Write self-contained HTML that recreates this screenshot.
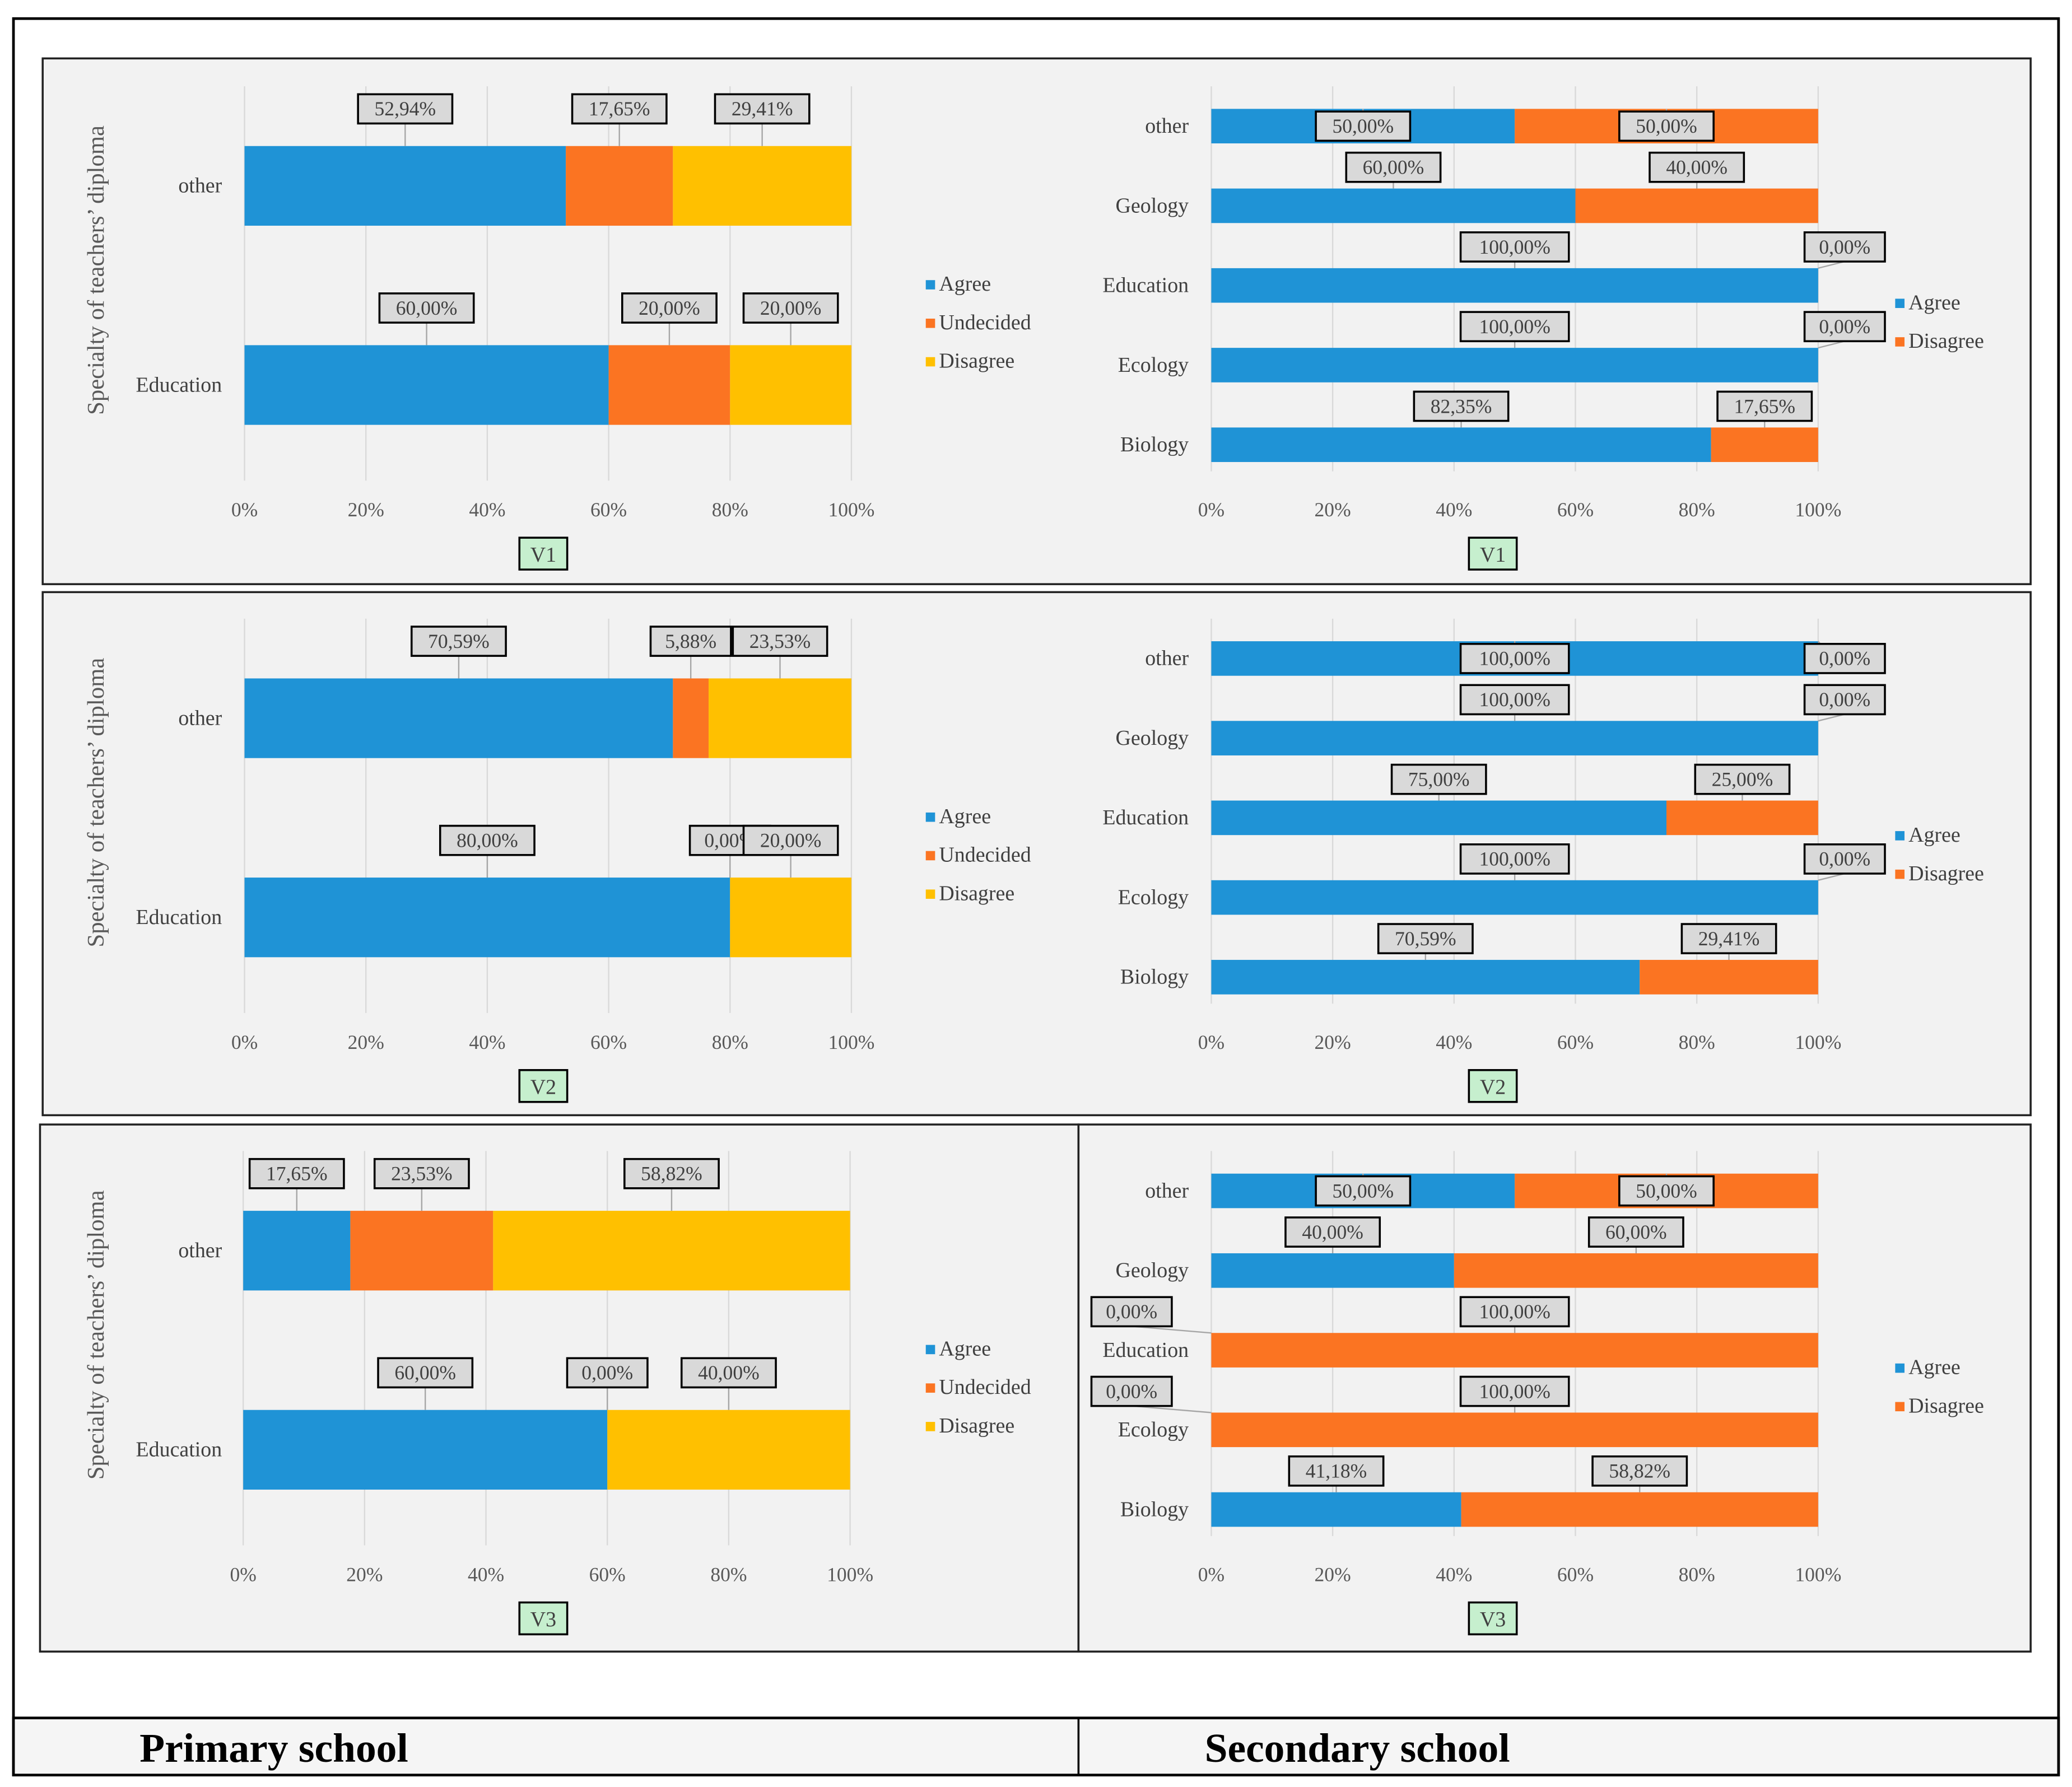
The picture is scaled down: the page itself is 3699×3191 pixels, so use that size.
<!DOCTYPE html>
<html><head><meta charset="utf-8">
<style>
html,body{margin:0;padding:0;background:#fff;}
svg{display:block;}
svg text{font-family:"Liberation Serif",serif;}
</style></head>
<body>
<svg id="fig" width="3699" height="3191" viewBox="0 0 1560 1346" xmlns="http://www.w3.org/2000/svg">
<rect x="10" y="14" width="1540" height="1323" fill="#fff" stroke="#000" stroke-width="2"/>
<rect x="10" y="1294" width="1540" height="43" fill="#f5f5f5" stroke="#000" stroke-width="2"/>
<line x1="812" y1="1294" x2="812" y2="1337" stroke="#000" stroke-width="1.5"/>
<text x="105" y="1327" font-size="31" font-weight="bold">Primary school</text>
<text x="907" y="1327" font-size="31" font-weight="bold">Secondary school</text>
<rect x="32" y="44" width="1497" height="396" fill="#f2f2f2" stroke="#222" stroke-width="1.5"/>
<rect x="32" y="446" width="1497" height="394" fill="#f2f2f2" stroke="#222" stroke-width="1.5"/>
<rect x="30" y="847" width="782" height="397" fill="#f2f2f2" stroke="#222" stroke-width="1.5"/>
<rect x="812" y="847" width="717" height="397" fill="#f2f2f2" stroke="#222" stroke-width="1.5"/>
<g id="charts"></g>
</svg>
<script>
const tickValues=[0,20,40,60,80,100];
const primCats=['other','Education'];
const primSeries=['Agree','Undecided','Disagree'];
const secCats=['other','Geology','Education','Ecology','Biology'];
const secSeries=['Agree','Disagree'];
const v1PrimAgree=[52.94,60.00];
const v1PrimUndecided=[17.65,20.00];
const v1PrimDisagree=[29.41,20.00];
const v2PrimAgree=[70.59,80.00];
const v2PrimUndecided=[5.88,0.00];
const v2PrimDisagree=[23.53,20.00];
const v3PrimAgree=[17.65,60.00];
const v3PrimUndecided=[23.53,0.00];
const v3PrimDisagree=[58.82,40.00];
const v1SecAgree=[50.00,60.00,100.00,100.00,82.35];
const v1SecDisagree=[50.00,40.00,0.00,0.00,17.65];
const v2SecAgree=[100.00,100.00,75.00,100.00,70.59];
const v2SecDisagree=[0.00,0.00,25.00,0.00,29.41];
const v3SecAgree=[50.00,40.00,0.00,0.00,41.18];
const v3SecDisagree=[50.00,60.00,100.00,100.00,58.82];

const NS='http://www.w3.org/2000/svg';
const PRIM_COLORS=['#1f93d6','#fb7422','#ffc000'];
const SEC_COLORS=['#1f93d6','#fb7422'];
const root=document.getElementById('charts');
function mk(tag,attrs,parent,txt){const e=document.createElementNS(NS,tag);for(const k in attrs)e.setAttribute(k,attrs[k]);if(txt!==undefined)e.textContent=txt;(parent||root).appendChild(e);return e;}
function fmt(v){return v.toFixed(2).replace('.',',')+'%';}

function drawChart(o){
  const g=mk('g',{});
  
  
  const colors=o.primary?PRIM_COLORS:SEC_COLORS;
  const xs=v=>o.x0+(o.x1-o.x0)*v/100;
  const yc=i=>o.yFirst+o.step*i;
  tickValues.forEach(t=>{
    const l=mk('line',{x1:xs(t),x2:xs(t),y1:o.gTop,y2:o.gBot,stroke:'#d9d9d9','stroke-width':1},g);
    
    
    const tx=mk('text',{x:xs(t),y:o.tickY,'font-size':15,fill:'#595959','text-anchor':'middle'},g,t+'%');
    
    
  });
  o.cats.forEach((c,i)=>{
    const t=mk('text',{x:o.catX,y:yc(i)+5,'font-size':16,fill:'#404040','text-anchor':'end'},g,c);
    
    
  });
  const labels=[];
  o.cats.forEach((c,i)=>{
    let acc=0;
    o.series.forEach((s,si)=>{
      const v=o.data[si][i];
      const a=xs(acc),b=xs(acc+v);
      if(v>0){
        const r=mk('rect',{x:a,y:yc(i)-o.bh/2,width:b-a,height:o.bh,fill:colors[si]},g);
        
        
      }
      labels.push({v:v,cx:(a+b)/2,top:yc(i)-o.bh/2,i:i,si:si});
      acc+=v;
    });
  });
  labels.forEach(L=>{
    const txt=fmt(L.v);
    const w=txt.length*10.5+8,h=22;
    let cx=L.cx,cy;
    if(o.primary){cy=L.top-28;}
    else{cy=(L.i===0)?L.top+o.bh/2:L.top-16; if(L.v===0)cx=L.cx+(L.si===0?-60:20);}
    const lb=mk('line',{x1:cx,y1:cy+h/2,x2:L.cx,y2:L.top,stroke:'#a6a6a6','stroke-width':1},g);
    
    
    const r=mk('rect',{x:cx-w/2,y:cy-h/2,width:w,height:h,fill:'#d9d9d9',stroke:'#000','stroke-width':1.5},g);
    
    
    const t=mk('text',{x:cx,y:cy+5,'font-size':15,fill:'#404040','text-anchor':'middle'},g,txt);
    
    
  });
  o.series.forEach((s,si)=>{
    const ly=o.legY+si*29;
    const sq=mk('rect',{x:o.legX,y:ly-8,width:7,height:7,fill:colors[si]},g);
    
    
    const t=mk('text',{x:o.legX+10,y:ly,'font-size':16,fill:'#404040'},g,s);
    
    
  });
  const vb=mk('rect',{x:o.vX-18,y:o.tickY+16,width:36,height:24,fill:'#c6efce',stroke:'#000','stroke-width':1.5},g);
  
  
  const vt=mk('text',{x:o.vX,y:o.tickY+34,'font-size':16,fill:'#404040','text-anchor':'middle'},g,o.tag);
  
  
  if(o.primary){
    const cyT=(o.gTop+o.gBot)/2-10;
    const yt=mk('text',{x:o.ytX,y:cyT,'font-size':18,fill:'#595959','text-anchor':'middle',transform:'rotate(-90 '+o.ytX+' '+cyT+')'},g,'Specialty of teachers\u2019 diploma');
    
    
  }
}

const rows=[
 {off:0,tag:'V1',p:[v1PrimAgree,v1PrimUndecided,v1PrimDisagree],s:[v1SecAgree,v1SecDisagree],px:184},
 {off:401,tag:'V2',p:[v2PrimAgree,v2PrimUndecided,v2PrimDisagree],s:[v2SecAgree,v2SecDisagree],px:184},
 {off:802,tag:'V3',p:[v3PrimAgree,v3PrimUndecided,v3PrimDisagree],s:[v3SecAgree,v3SecDisagree],px:183}
];
rows.forEach(r=>{
  drawChart({name:'primary-chart-'+r.tag.toLowerCase(),primary:true,cats:primCats,series:primSeries,data:r.p,
    x0:r.px,x1:r.px+457,yFirst:140+r.off,step:150,bh:60,gTop:65+r.off,gBot:362+r.off,tickY:389+r.off,
    catX:167,legX:697,legY:219+r.off,vX:409,tag:r.tag,ytX:78});
  drawChart({name:'secondary-chart-'+r.tag.toLowerCase(),primary:false,cats:secCats,series:secSeries,data:r.s,
    x0:912,x1:1369,yFirst:95+r.off,step:60,bh:26,gTop:65+r.off,gBot:355+r.off,tickY:389+r.off,
    catX:895,legX:1427,legY:233+r.off,vX:1124,tag:r.tag});
});
</script>
</body></html>
